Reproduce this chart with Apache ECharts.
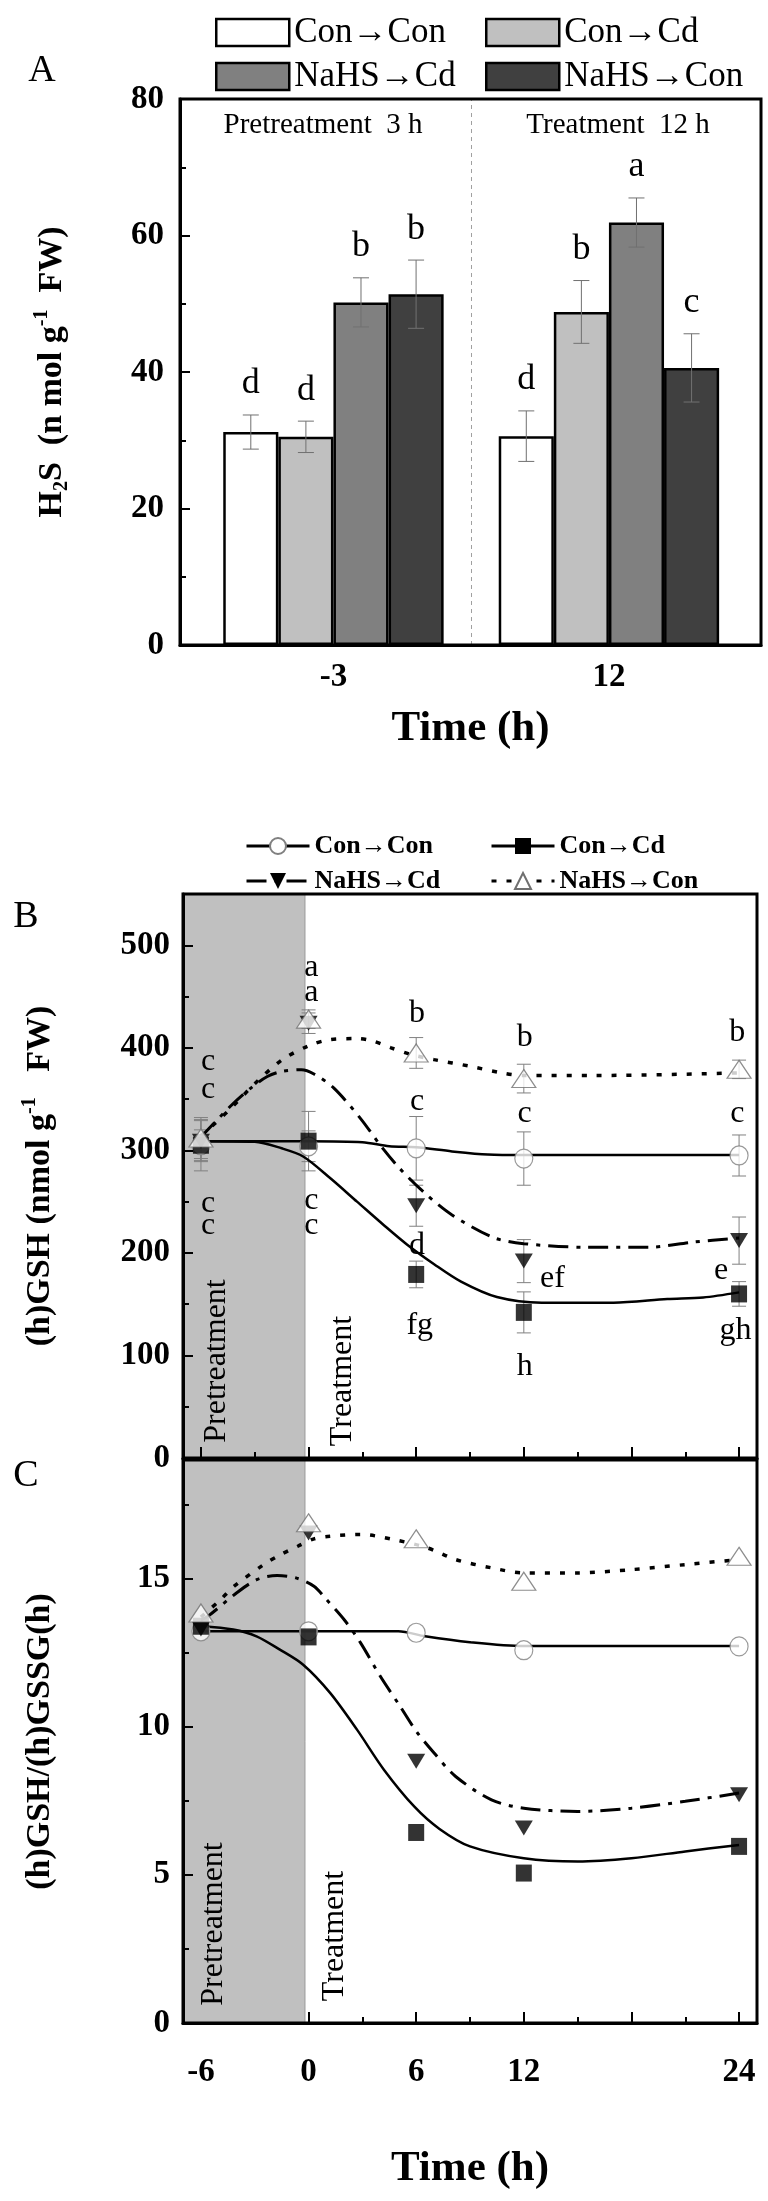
<!DOCTYPE html>
<html><head><meta charset="utf-8">
<script src="https://cdn.jsdelivr.net/npm/echarts@6/dist/echarts.min.js"></script>
<style>html,body{margin:0;padding:0;background:#fff}#c{width:768px;height:2201px}</style>
</head><body><div id="c"></div>
<script>
// ---------------- Panel A: H2S bars ----------------
const A_TIMES = ['-3', '12'];
const GROUPS = ['Con→Con', 'Con→Cd', 'NaHS→Cd', 'NaHS→Con'];
const A_CON_CON = [31.2, 30.6];
const A_CON_CD = [30.5, 48.8];
const A_NAHS_CD = [50.2, 61.9];
const A_NAHS_CON = [51.4, 40.6];
const A_ERR_CON_CON = [2.5, 3.7];
const A_ERR_CON_CD = [2.3, 4.6];
const A_ERR_NAHS_CD = [3.6, 3.6];
const A_ERR_NAHS_CON = [5.0, 5.0];
const A_SIG_CON_CON = ['d', 'd'];
const A_SIG_CON_CD = ['d', 'b'];
const A_SIG_NAHS_CD = ['b', 'a'];
const A_SIG_NAHS_CON = ['b', 'c'];

// ---------------- Panel B: (h)GSH ----------------
const TIMES = [-6, 0, 6, 12, 24];
const B_CON_CON = [305, 304, 302, 292, 295];
const B_CON_CD = [305, 309, 179, 142, 160];
const B_NAHS_CD = [309, 424, 246, 192, 212];
const B_NAHS_CON = [312, 428, 395, 370, 379];
const B_ERR_CON_CON = [25, 15, 31, 26, 20];
const B_ERR_CON_CD = [15, 29, 13, 20, 12];
const B_ERR_NAHS_CD = [20, 10, 20, 21, 23];
const B_ERR_NAHS_CON = [20, 9, 15, 14, 9];
// fitted curves
const B_FIT_CON_CON = [[-6,309],[0,309],[3,308],[4.5,304],[6,303],[8,299],[10,296],[12,295.5],[24,295.5]];
const B_FIT_CON_CD = [[-6,309],[-3,308.5],[-1.5,302],[-0.3,294],[1.2,273],[2.7,250],[4.2,227],[5.5,208],[7,189],[8.5,172],[10.5,157],[13,151.5],[17,151.5],[20,155],[22,156.5],[24,161.5]];
const B_FIT_NAHS_CD = [[-6,313],[-4.3,344],[-3.2,361],[-2.3,372],[-1.5,377],[-0.4,378.7],[0.3,374.5],[1.4,361],[2.9,331],[4,305],[5.1,282],[6.5,258],[8,237],[10.3,215],[12,209],[15.5,205.5],[19,205.5],[21.4,210.5],[24,214.5]];
const B_FIT_NAHS_CON = [[-6,314],[-4.5,338],[-3,365],[-1.5,388],[0,402],[1.2,408],[2.7,409],[3.6,406.5],[4.6,400],[5.7,393.5],[7,388.5],[9,382],[10.8,375.5],[12,373],[16,373],[24,375.5]];
// significance letters [time, value, letter]
const B_LETTERS = [
  [-5.6,387,'c'],[-5.6,359,'c'],[-5.6,248,'c'],[-5.6,227,'c'],
  [0.15,478,'a'],[0.15,454,'a'],[0.15,251,'c'],[0.15,227,'c'],
  [6.05,433,'b'],[6.05,348,'c'],[6.05,207,'d'],[6.2,129,'fg'],
  [12.05,410,'b'],[12.05,336,'c'],[13.6,174.5,'ef'],[12.05,89.5,'h'],
  [23.9,415,'b'],[23.9,336,'c'],[23.0,183,'e'],[23.8,124,'gh']
];

// ---------------- Panel C: (h)GSH/(h)GSSG(h) ----------------
const C_CON_CON = [13.22, 13.22, 13.17, 12.58, 12.71];
const C_CON_CD = [13.39, 13.03, 6.43, 5.06, 5.96];
const C_NAHS_CD = [13.3, 16.54, 8.83, 6.58, 7.7];
const C_NAHS_CON = [13.84, 16.88, 16.34, 14.91, 15.75];
const C_FIT_CON_CON = [[-6,13.22],[0,13.22],[5,13.22],[6.5,13.05],[9,12.85],[12,12.72],[24,12.72]];
const C_FIT_CON_CD = [[-6,13.4],[-4.2,13.28],[-2.9,13.05],[-1.6,12.6],[-0.3,12.09],[1.2,11.14],[2.7,9.9],[4.2,8.55],[5.9,7.3],[7.3,6.55],[9,5.96],[12,5.56],[15,5.45],[18,5.56],[21,5.79],[24,6.01]];
const C_FIT_NAHS_CD = [[-6,13.6],[-5.6,13.73],[-4,14.52],[-2.85,14.97],[-1.75,15.1],[-0.7,15.02],[0.3,14.74],[1,14.29],[2,13.6],[2.9,12.83],[4,11.7],[5.1,10.69],[6,9.85],[7,9.11],[8.2,8.32],[10.2,7.53],[12,7.25],[15,7.14],[18,7.25],[21,7.48],[24,7.76]];
const C_FIT_NAHS_CON = [[-6,13.7],[-4.9,14.29],[-4.15,14.74],[-2.5,15.47],[-1.55,15.81],[-0.6,16.09],[0.3,16.34],[1.2,16.43],[2.9,16.49],[4.7,16.32],[6.6,16.04],[8.2,15.64],[10.2,15.36],[12,15.19],[15,15.19],[18,15.3],[21,15.47],[24,15.64]];

const X_TICKS_MAJOR_B = [-6, 0, 6, 12, 18, 24];
const X_TICKS_MINOR_B = [-3, 3, 9, 15, 21];
const X_TICKS_MAJOR_C = [0, 6, 12, 18, 24];
const X_TICKS_MINOR_C = [3, 9, 15, 21];
const X_LABELS = [-6, 0, 6, 12, 24];
const PRETREAT_END = -0.2;
const A_DIVIDER = 0.5;

// ---------------- styles ----------------
const SERIF = '"Liberation Serif", "Times New Roman", serif';
const A_VALS = [A_CON_CON, A_CON_CD, A_NAHS_CD, A_NAHS_CON];
const A_ERRS = [A_ERR_CON_CON, A_ERR_CON_CD, A_ERR_NAHS_CD, A_ERR_NAHS_CON];
const A_SIGS = [A_SIG_CON_CON, A_SIG_CON_CD, A_SIG_NAHS_CD, A_SIG_NAHS_CON];
const A_COLORS = ['#ffffff', '#c0c0c0', '#808080', '#404040'];
const BAR_FRAC = 0.2;

const B_VALS = [B_CON_CON, B_CON_CD, B_NAHS_CD, B_NAHS_CON];
const B_ERRS = [B_ERR_CON_CON, B_ERR_CON_CD, B_ERR_NAHS_CD, B_ERR_NAHS_CON];
const B_FITS = [B_FIT_CON_CON, B_FIT_CON_CD, B_FIT_NAHS_CD, B_FIT_NAHS_CON];
const C_VALS = [C_CON_CON, C_CON_CD, C_NAHS_CD, C_NAHS_CON];
const C_FITS = [C_FIT_CON_CON, C_FIT_CON_CD, C_FIT_NAHS_CD, C_FIT_NAHS_CON];

const DOWN_TRI = 'path://M0,0L20,0L10,17Z';
const MARK = [
  {symbol:'circle', size:[18,19], item:{color:'#fff', borderColor:'#808080', borderWidth:1.2}},
  {symbol:'rect', size:[16,17], item:{color:'#000'}},
  {symbol:DOWN_TRI, size:[18,15], item:{color:'#000'}},
  {symbol:'triangle', size:[24,18], item:{color:'#fff', borderColor:'#707070', borderWidth:1.2}}
];
const LINE = [
  {color:'#000', width:2.5, type:'solid'},
  {color:'#000', width:2.5, type:'solid'},
  {color:'#000', width:3, type:[20,8,4,8]},
  {color:'#000', width:3.5, type:[5,10]}
];
const MARKER_ORDER = [0, 2, 1, 3];

const series = [];

// ---- Panel A bars ----
GROUPS.forEach((g, si) => {
  series.push({
    type:'bar', name:'A ' + g, xAxisIndex:0, yAxisIndex:0,
    data: A_VALS[si].map((v, ci) => [ci, v]),
    barWidth: (BAR_FRAC*100) + '%', barGap:'0%',
    itemStyle:{color:A_COLORS[si], borderColor:'#000', borderWidth:2.5}
  });
});
series.push({
  type:'line', xAxisIndex:0, yAxisIndex:0, z:1, data:[], silent:true,
  markLine:{silent:true, symbol:'none', label:{show:false},
    lineStyle:{color:'#a0a0a0', type:[4,4], width:1}, data:[{xAxis:A_DIVIDER}]}
});
const aErrData = [];
GROUPS.forEach((g, si) => A_VALS[si].forEach((v, ci) => aErrData.push([ci, v, A_ERRS[si][ci], si])));
series.push({
  type:'custom', xAxisIndex:0, yAxisIndex:0, z:4, data:aErrData, encode:{x:0, y:1},
  renderItem(params, api) {
    const ci = api.value(0), v = api.value(1), e = api.value(2), si = api.value(3);
    const bw = api.size([1, 0])[0] * BAR_FRAC;
    const x = api.coord([ci, v])[0] + (si - 1.5) * bw;
    const yt = api.coord([ci, v + e])[1], yb = api.coord([ci, v - e])[1];
    const st = {stroke:'#707070', lineWidth:1};
    return {type:'group', children:[
      {type:'line', shape:{x1:x, y1:yt, x2:x, y2:yb}, style:st},
      {type:'line', shape:{x1:x-8, y1:yt, x2:x+8, y2:yt}, style:st},
      {type:'line', shape:{x1:x-8, y1:yb, x2:x+8, y2:yb}, style:st},
      {type:'text', style:{text:A_SIGS[si][ci], x:x, y:yt - 31, align:'center', verticalAlign:'middle',
        font:'36px ' + SERIF, fill:'#000'}}
    ]};
  }
});

// ---- helper for B / C panels ----
function addTimePanel(xIdx, yIdx, vals, fits, errs, letters) {
  series.push({
    type:'line', xAxisIndex:xIdx, yAxisIndex:yIdx, z:1, data:[], silent:true,
    markArea:{silent:true, itemStyle:{color:'#c0c0c0', borderColor:'#999', borderWidth:1},
      data:[[{xAxis:-7}, {xAxis:PRETREAT_END}]]}
  });
  GROUPS.forEach((g, si) => {
    series.push({
      type:'line', name:g, xAxisIndex:xIdx, yAxisIndex:yIdx, z:3, data:fits[si],
      showSymbol:false, symbol:MARK[si].symbol, symbolSize:MARK[si].size,
      itemStyle:MARK[si].item, lineStyle:LINE[si], smooth:0.3, silent:true
    });
  });
  if (errs) {
    const ed = [];
    GROUPS.forEach((g, si) => TIMES.forEach((t, i) => ed.push([t, vals[si][i], errs[si][i]])));
    series.push({
      type:'custom', xAxisIndex:xIdx, yAxisIndex:yIdx, z:2, data:ed, encode:{x:0, y:1},
      renderItem(params, api) {
        const t = api.value(0), v = api.value(1), e = api.value(2);
        const x = api.coord([t, v])[0];
        const yt = api.coord([t, v + e])[1], yb = api.coord([t, v - e])[1];
        const st = {stroke:'#808080', lineWidth:1};
        return {type:'group', children:[
          {type:'line', shape:{x1:x, y1:yt, x2:x, y2:yb}, style:st},
          {type:'line', shape:{x1:x-7, y1:yt, x2:x+7, y2:yt}, style:st},
          {type:'line', shape:{x1:x-7, y1:yb, x2:x+7, y2:yb}, style:st}
        ]};
      }
    });
  }
  MARKER_ORDER.forEach(si => {
    series.push({
      type:'scatter', name:GROUPS[si], xAxisIndex:xIdx, yAxisIndex:yIdx, z:4,
      data: TIMES.map((t, i) => [t, vals[si][i]]),
      symbol:MARK[si].symbol, symbolSize:MARK[si].size, itemStyle:MARK[si].item, silent:true
    });
  });
  if (letters) {
    series.push({
      type:'custom', xAxisIndex:xIdx, yAxisIndex:yIdx, z:5, silent:true,
      data:letters.map(r => [r[0], r[1]]), encode:{x:0, y:1},
      renderItem(params, api) {
        const p = api.coord([api.value(0), api.value(1)]);
        return {type:'text', style:{text:letters[params.dataIndex][2], x:p[0], y:p[1],
          align:'center', verticalAlign:'middle', font:'32px ' + SERIF, fill:'#000'}};
      }
    });
  }
}
addTimePanel(1, 1, B_VALS, B_FITS, B_ERRS, B_LETTERS);
addTimePanel(3, 2, C_VALS, C_FITS, null, null);

const boldLabel = {fontFamily:SERIF, fontWeight:'bold', fontSize:33, color:'#000'};
const tickStyle = {color:'#000', width:2};
const axisLineStyle = {show:true, onZero:false, lineStyle:{color:'#000', width:3}};

function timeAxis(gridIndex, major, minor, withLabels) {
  return [
    {type:'value', gridIndex, min:-7, max:25, position:'bottom', z:6,
     axisLine:axisLineStyle,
     axisTick:{show:true, inside:true, length:11, customValues:major, lineStyle:tickStyle},
     axisLabel: withLabels ? Object.assign({show:true, customValues:X_LABELS, margin:33}, boldLabel) : {show:false},
     splitLine:{show:false},
     name: withLabels ? 'Time (h)' : '', nameLocation:'middle', nameGap:124,
     nameTextStyle:{fontFamily:SERIF, fontWeight:'bold', fontSize:43, color:'#000'}},
    {type:'value', gridIndex, min:-7, max:25, position:'bottom', z:6,
     axisLine:{show:false, onZero:false},
     axisTick:{show:true, inside:true, length:6, customValues:minor, lineStyle:tickStyle},
     axisLabel:{show:false}, splitLine:{show:false}}
  ];
}

const nameRich = {
  b:{fontFamily:SERIF, fontWeight:'bold', fontSize:34, color:'#000', lineHeight:40},
  s:{fontFamily:SERIF, fontWeight:'bold', fontSize:20, color:'#000', verticalAlign:'bottom', lineHeight:40},
  p:{fontFamily:SERIF, fontWeight:'bold', fontSize:20, color:'#000', verticalAlign:'top', lineHeight:40}
};

function legendA(name, left, top) {
  return {left, top, itemWidth:73, itemHeight:27, icon:'rect', selectedMode:false,
    data:[name], formatter:n => n.slice(2),
    itemStyle:{borderColor:'#000', borderWidth:2.5},
    textStyle:{fontFamily:SERIF, fontSize:35, color:'#000'}};
}
function legendB(name, left, top) {
  return {left, top, itemWidth:63, itemHeight:20, selectedMode:false,
    data:[name], lineStyle:{width:3},
    textStyle:{fontFamily:SERIF, fontWeight:'bold', fontSize:26, color:'#000'}};
}

const option = {
  animation:false,
  backgroundColor:'#fff',
  grid:[
    {left:180, top:99, width:581, height:546, show:true, borderColor:'#000', borderWidth:3, z:6},
    {left:183, top:894, width:574, height:564, show:true, borderColor:'#000', borderWidth:3, z:6},
    {left:183, top:1460, width:574, height:563, show:true, borderColor:'#000', borderWidth:3, z:6}
  ],
  xAxis:[
    {type:'value', gridIndex:0, min:-0.557, max:1.552, position:'bottom', z:6,
     axisLine:axisLineStyle, axisTick:{show:false},
     axisLabel:Object.assign({show:true, customValues:[0, 1], margin:16,
       formatter:v => A_TIMES[Math.round(v)]}, boldLabel),
     splitLine:{show:false},
     name:'Time (h)', nameLocation:'middle', nameGap:62,
     nameTextStyle:{fontFamily:SERIF, fontWeight:'bold', fontSize:43, color:'#000'}},
    ...timeAxis(1, X_TICKS_MAJOR_B, X_TICKS_MINOR_B, false),
    ...timeAxis(2, X_TICKS_MAJOR_C, X_TICKS_MINOR_C, true)
  ],
  yAxis:[
    {type:'value', gridIndex:0, min:0, max:80, interval:20, z:6,
     axisLine:axisLineStyle,
     axisTick:{show:true, inside:true, length:10, lineStyle:tickStyle},
     minorTick:{show:true, splitNumber:2, length:6, lineStyle:tickStyle},
     axisLabel:Object.assign({margin:16}, boldLabel), splitLine:{show:false},
     name:'{b|H}{s|2}{b|S  (n mol g}{p|-1}{b|  FW)}', nameLocation:'middle', nameRotate:90, nameGap:108,
     nameTextStyle:{rich:nameRich}},
    {type:'value', gridIndex:1, min:0, max:550, interval:100, z:6,
     axisLine:axisLineStyle,
     axisTick:{show:true, inside:true, length:10, lineStyle:tickStyle},
     minorTick:{show:true, splitNumber:2, length:6, lineStyle:tickStyle},
     axisLabel:Object.assign({margin:13, showMaxLabel:false}, boldLabel), splitLine:{show:false},
     name:'{b|(h)GSH (nmol g}{p|-1}{b|   FW)}', nameLocation:'middle', nameRotate:90, nameGap:123,
     nameTextStyle:{rich:nameRich}},
    {type:'value', gridIndex:2, min:0, max:19, interval:5, z:6,
     axisLine:axisLineStyle,
     axisTick:{show:true, inside:true, length:10, lineStyle:tickStyle},
     minorTick:{show:true, splitNumber:2, length:6, lineStyle:tickStyle},
     axisLabel:Object.assign({margin:13, showMaxLabel:false}, boldLabel), splitLine:{show:false},
     name:'{b|(h)GSH/(h)GSSG(h)}', nameLocation:'middle', nameRotate:90, nameGap:123,
     nameTextStyle:{rich:nameRich}}
  ],
  legend:[
    legendA('A ' + GROUPS[0], 210, 10), legendA('A ' + GROUPS[1], 480, 10),
    legendA('A ' + GROUPS[2], 210, 54), legendA('A ' + GROUPS[3], 480, 54),
    legendB(GROUPS[0], 240, 828), legendB(GROUPS[1], 485, 828),
    legendB(GROUPS[2], 240, 863), legendB(GROUPS[3], 485, 863)
  ],
  graphic:{elements:[
    {type:'text', x:42, y:71, z:100, style:{text:'A', font:'38px ' + SERIF, fill:'#000', align:'center', verticalAlign:'middle'}},
    {type:'text', x:26, y:917, z:100, style:{text:'B', font:'38px ' + SERIF, fill:'#000', align:'center', verticalAlign:'middle'}},
    {type:'text', x:26, y:1476, z:100, style:{text:'C', font:'38px ' + SERIF, fill:'#000', align:'center', verticalAlign:'middle'}},
    {type:'text', x:323, y:125, z:100, style:{text:'Pretreatment  3 h', font:'29px ' + SERIF, fill:'#000', align:'center', verticalAlign:'middle'}},
    {type:'text', x:618, y:125, z:100, style:{text:'Treatment  12 h', font:'29px ' + SERIF, fill:'#000', align:'center', verticalAlign:'middle'}},
    {type:'text', x:217, y:1361, z:100, rotation:Math.PI/2, style:{text:'Pretreatment', font:'32px ' + SERIF, fill:'#000', align:'center', verticalAlign:'middle'}},
    {type:'text', x:343, y:1381, z:100, rotation:Math.PI/2, style:{text:'Treatment', font:'32px ' + SERIF, fill:'#000', align:'center', verticalAlign:'middle'}},
    {type:'text', x:214, y:1924, z:100, rotation:Math.PI/2, style:{text:'Pretreatment', font:'32px ' + SERIF, fill:'#000', align:'center', verticalAlign:'middle'}},
    {type:'text', x:335, y:1936, z:100, rotation:Math.PI/2, style:{text:'Treatment', font:'32px ' + SERIF, fill:'#000', align:'center', verticalAlign:'middle'}}
  ]},
  series
};

const chart = echarts.init(document.getElementById('c'), null, {renderer:'canvas', width:768, height:2201});
chart.setOption(option);
</script>
</body></html>
